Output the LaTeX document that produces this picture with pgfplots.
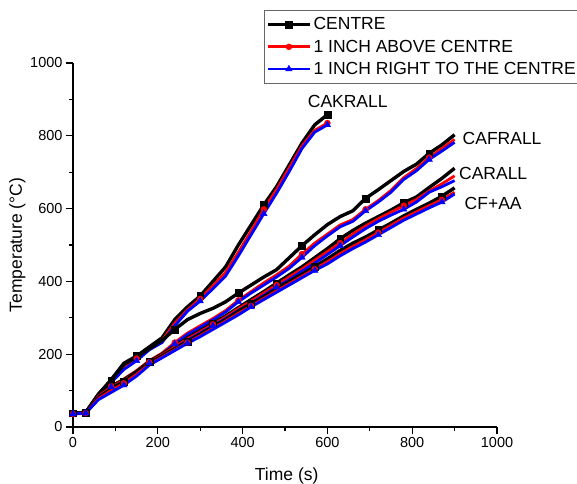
\documentclass[border=0pt]{standalone}
\usepackage{pgfplots}
\pgfplotsset{compat=1.18}
\usepackage{fontspec}
\setmainfont{Liberation Sans}

\pgfplotsset{
  cen/.style={black, line width=3.4pt, mark=square*, mark size=3.4pt, mark options={line width=0.4pt}},
  abv/.style={red, line width=2.8pt, mark=*, mark size=3pt, mark options={line width=0.4pt}},
  rgt/.style={blue, line width=2.8pt, mark=triangle*, mark size=3.8pt, mark options={line width=0.4pt}},
}

\begin{document}
\begin{tikzpicture}
\begin{axis}[
    name=ax,
    scale only axis,
    width=424pt, height=364pt,
    xmin=0, xmax=1000, ymin=0, ymax=1000,
    axis x line*=bottom, axis y line*=left,
    axis line style={line width=1.3pt, -},
    tick align=outside,
    major tick length=7pt, minor tick length=4pt,
    every tick/.style={black, line width=1.1pt},
    xtick={0,200,...,1000}, ytick={0,200,...,1000},
    minor tick num=1,
    ticklabel style={font=\fontsize{14.5}{16}\selectfont},
    /pgf/number format/assume math mode=true,
    /pgf/number format/1000 sep={},
    xlabel={Time (s)}, ylabel={Temperature (°C)},
    label style={font=\fontsize{17.5}{19}\selectfont},
    xlabel style={at={(axis description cs:0.504,-0.134)}, anchor=center},
    ylabel style={at={(axis description cs:-0.131,0.5)}, anchor=center, rotate=0},
    clip=false,
    legend cell align=left,
    legend style={at={(rel axis cs:0.45,1.146)}, anchor=north west,
        draw=black!60, line width=0.8pt, font=\fontsize{17.5}{18}\selectfont,
        row sep=4.5pt, inner xsep=2pt, inner ysep=5.5pt},
    legend image code/.code={\draw[#1, mark repeat=2, mark phase=2] plot coordinates {(0pt,0pt)(21pt,0pt)(42pt,0pt)};},
]
% CAKRALL
\addplot[cen, mark repeat=5, mark phase=1] coordinates {(0,38)(30,40)(60,90)(90,130)(120,175)(150,195)(180,220)(210,245)(240,295)(270,330)(300,360)(330,400)(360,440)(390,500)(420,555)(450,610)(480,660)(510,720)(540,780)(570,830)(600,858)};
\addlegendentry{CENTRE}
\addplot[abv, mark repeat=5, mark phase=1] coordinates {(0,36)(30,37)(60,88)(90,128)(120,165)(150,188)(180,215)(210,238)(240,285)(270,322)(300,352)(330,388)(360,425)(390,480)(420,538)(450,598)(480,652)(510,712)(540,772)(570,815)(600,835)};
\addlegendentry{1 INCH ABOVE CENTRE}
\addplot[rgt, mark repeat=5, mark phase=1] coordinates {(0,36)(30,38)(60,85)(90,122)(120,158)(150,182)(180,212)(210,232)(240,278)(270,318)(300,346)(330,380)(360,415)(390,470)(420,528)(450,586)(480,642)(510,702)(540,765)(570,810)(600,830)};
\addlegendentry{1 INCH RIGHT TO THE CENTRE}
% CAFRALL
\addplot[cen, forget plot, mark repeat=5, mark phase=4] coordinates {(0,38)(30,40)(60,90)(90,128)(120,172)(150,192)(180,215)(210,238)(240,268)(270,295)(300,312)(330,326)(360,344)(390,368)(420,390)(450,412)(480,432)(510,465)(540,498)(570,528)(600,556)(630,578)(660,594)(690,628)(720,652)(750,677)(780,702)(810,722)(840,752)(870,775)(900,803)};
\addplot[abv, forget plot, mark repeat=5, mark phase=4] coordinates {(0,37)(30,38)(60,86)(90,112)(120,132)(150,155)(180,182)(210,203)(240,232)(270,258)(300,278)(330,298)(360,320)(390,348)(420,372)(450,396)(480,418)(510,442)(540,475)(570,505)(600,530)(630,555)(660,570)(690,598)(720,622)(750,650)(780,685)(810,710)(840,740)(870,765)(900,790)};
\addplot[rgt, forget plot, mark repeat=5, mark phase=4] coordinates {(0,37)(30,38)(60,84)(90,110)(120,128)(150,150)(180,178)(210,200)(240,228)(270,254)(300,274)(330,294)(360,316)(390,344)(420,368)(450,390)(480,412)(510,436)(540,466)(570,498)(600,525)(630,550)(660,565)(690,594)(720,618)(750,645)(780,680)(810,704)(840,735)(870,758)(900,782)};
% CARALL
\addplot[cen, forget plot, mark repeat=5, mark phase=2] coordinates {(0,38)(30,40)(60,85)(90,112)(120,130)(150,152)(180,180)(210,200)(240,222)(270,245)(300,265)(330,285)(360,305)(390,328)(420,350)(450,372)(480,395)(510,418)(540,440)(570,465)(600,490)(630,517)(660,540)(690,560)(720,578)(750,596)(780,616)(810,632)(840,658)(870,683)(900,711)};
\addplot[abv, forget plot, mark repeat=5, mark phase=2] coordinates {(0,37)(30,38)(60,84)(90,110)(120,128)(150,150)(180,178)(210,198)(240,220)(270,242)(300,262)(330,282)(360,302)(390,325)(420,346)(450,368)(480,390)(510,412)(540,434)(570,458)(600,482)(630,505)(660,530)(690,552)(720,572)(750,590)(780,608)(810,625)(840,648)(870,668)(900,690)};
\addplot[rgt, forget plot, mark repeat=5, mark phase=2] coordinates {(0,37)(30,38)(60,82)(90,106)(120,125)(150,147)(180,175)(210,195)(240,216)(270,238)(300,258)(330,278)(360,298)(390,320)(420,340)(450,362)(480,384)(510,405)(540,428)(570,450)(600,474)(630,498)(660,522)(690,545)(720,565)(750,582)(780,598)(810,618)(840,645)(870,660)(900,677)};
% CF+AA
\addplot[cen, forget plot, mark repeat=5, mark phase=5] coordinates {(0,38)(30,40)(60,80)(90,105)(120,125)(150,150)(180,175)(210,195)(240,215)(270,235)(300,255)(330,275)(360,295)(390,318)(420,338)(450,358)(480,380)(510,400)(540,420)(570,440)(600,462)(630,485)(660,505)(690,522)(720,541)(750,560)(780,580)(810,598)(840,615)(870,634)(900,657)};
\addplot[abv, forget plot, mark repeat=5, mark phase=5] coordinates {(0,37)(30,38)(60,78)(90,100)(120,120)(150,145)(180,172)(210,192)(240,212)(270,232)(300,251)(330,271)(360,291)(390,312)(420,333)(450,353)(480,374)(510,394)(540,414)(570,434)(600,454)(630,476)(660,496)(690,514)(720,534)(750,554)(780,574)(810,591)(840,608)(870,624)(900,645)};
\addplot[rgt, forget plot, mark repeat=5, mark phase=5] coordinates {(0,37)(30,38)(60,75)(90,95)(120,115)(150,140)(180,170)(210,190)(240,210)(270,230)(300,248)(330,268)(360,288)(390,308)(420,330)(450,350)(480,370)(510,390)(540,410)(570,430)(600,448)(630,470)(660,490)(690,508)(720,528)(750,548)(780,568)(810,585)(840,602)(870,618)(900,640)};
\node[font=\fontsize{17.5}{19}\selectfont] at (axis cs:648,893) {CAKRALL};
\node[font=\fontsize{17.5}{19}\selectfont] at (axis cs:1012,794) {CAFRALL};
\node[font=\fontsize{17.5}{19}\selectfont] at (axis cs:991,697) {CARALL};
\node[font=\fontsize{17.5}{19}\selectfont] at (axis cs:991,613) {CF+AA};
\end{axis}
\pgfresetboundingbox
\path (ax.south west) ++(-73pt,-56pt) rectangle ++(577pt,483pt);
\end{tikzpicture}
\end{document}
